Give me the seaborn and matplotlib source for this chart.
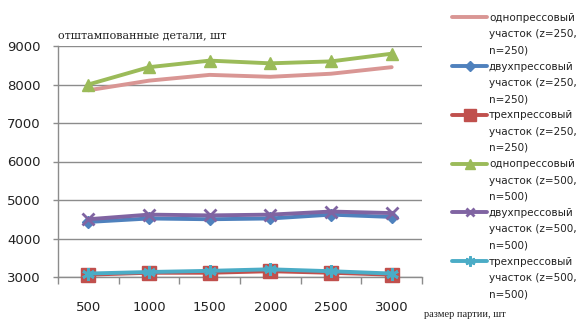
import numpy as np
import pandas as pd
import matplotlib
matplotlib.use("Agg")
import matplotlib.pyplot as plt
import seaborn as sns
from matplotlib.lines import Line2D

batch_sizes = [500, 1000, 1500, 2000, 2500, 3000]
one_press_250 = [7850, 8100, 8250, 8200, 8280, 8450]
two_press_250 = [4430, 4520, 4500, 4520, 4620, 4560]
three_press_250 = [3060, 3110, 3110, 3150, 3110, 3060]
one_press_500 = [8000, 8450, 8620, 8550, 8600, 8800]
two_press_500 = [4500, 4620, 4600, 4620, 4700, 4660]
three_press_500 = [3090, 3130, 3160, 3200, 3150, 3090]

series_labels = [
    "однопрессовый\nучасток (z=250,\nn=250)",
    "двухпрессовый\nучасток (z=250,\nn=250)",
    "трехпрессовый\nучасток (z=250,\nn=250)",
    "однопрессовый\nучасток (z=500,\nn=500)",
    "двухпрессовый\nучасток (z=500,\nn=500)",
    "трехпрессовый\nучасток (z=500,\nn=500)",
]
y_ticks = [3000, 4000, 5000, 6000, 7000, 8000, 9000]
y_title = "отштампованные детали, шт"
x_title = "размер партии, шт"

series_values = [one_press_250, two_press_250, three_press_250,
                 one_press_500, two_press_500, three_press_500]
colors = ["#D99694", "#4F81BD", "#C0504D", "#9BBB59", "#8064A2", "#4BACC6"]
markers = [None, "D", "s", "^", "x", (6, 2, 0)]
msizes = [0, 6.5, 10, 9, 8, 9]

sns.set_theme(style="white")
plt.rcParams['font.family'] = ['DejaVu Sans']

fig = plt.figure(figsize=(5.84, 3.2), dpi=100)
ax = fig.add_axes([58/584, 1-277/320, (422-58)/584, (277-46)/320])

rows = []
for lab, vals in zip(series_labels, series_values):
    for x, v in zip(batch_sizes, vals):
        rows.append({"x": x, "y": v, "s": lab})
df = pd.DataFrame(rows)

handles = []
for lab, c, m, ms in zip(series_labels, colors, markers, msizes):
    d = df[df["s"] == lab]
    sns.lineplot(data=d, x="x", y="y", ax=ax, color=c, linewidth=2.8,
                 marker=m, markersize=ms, markeredgecolor=c,
                 markeredgewidth=2 if (m == "x" or isinstance(m, tuple)) else 1,
                 clip_on=False, zorder=3)
    handles.append(ax.lines[-1])
if ax.get_legend():
    ax.get_legend().remove()

ax.set_xlim(250, 3250)
ax.set_ylim(3000, 9000)
ax.set_xticks(batch_sizes)
ax.set_xticklabels([str(b) for b in batch_sizes])
ax.set_xticks([250 + 500 * i for i in range(7)], minor=True)
ax.set_yticks(y_ticks)
ax.set_yticklabels([str(t) for t in y_ticks])
ax.set_xlabel("")
ax.set_ylabel("")
ax.yaxis.grid(True, color="#8c8c8c", linewidth=1)
ax.set_axisbelow(True)
for s in ["top", "right"]:
    ax.spines[s].set_visible(False)
for s in ["left", "bottom"]:
    ax.spines[s].set_color("#8c8c8c")
    ax.spines[s].set_linewidth(1)
ax.tick_params(axis="x", which="major", length=0, pad=17, labelsize=9.5, labelcolor="#222222")
ax.tick_params(axis="x", which="minor", length=5, width=1, color="#8c8c8c", bottom=True)
ax.tick_params(axis="y", which="major", length=3.6, width=1, color="#8c8c8c", left=True,
               pad=9, labelsize=9.5, labelcolor="#222222")

fig.text(58/584, 1-35/320, y_title, family=["DejaVu Serif"], fontsize=8,
         ha="left", va="center", color="#222222")
fig.text(424/584, 1-319/320, x_title, family=["Liberation Serif"], fontsize=7.5,
         ha="left", va="bottom", color="#222222")

# legend: one row per text line, handle on the first line of each entry
leg_handles = []
leg_texts = []
for h, lab in zip(handles, series_labels):
    parts = lab.split("\n")
    for i, p in enumerate(parts):
        if i == 0:
            leg_handles.append(h)
        else:
            leg_handles.append(Line2D([], [], linestyle="none"))
        leg_texts.append(p)

leg = fig.legend(leg_handles, leg_texts, loc="upper left",
                 bbox_to_anchor=(452/584, 1-13/320), frameon=False,
                 fontsize=7.5, handlelength=3.4, handletextpad=0.15,
                 labelspacing=0.6, borderpad=0, borderaxespad=0, markerscale=0.8)
for t in leg.get_texts():
    t.set_color("#222222")

fig.savefig("out.png", dpi=100)
